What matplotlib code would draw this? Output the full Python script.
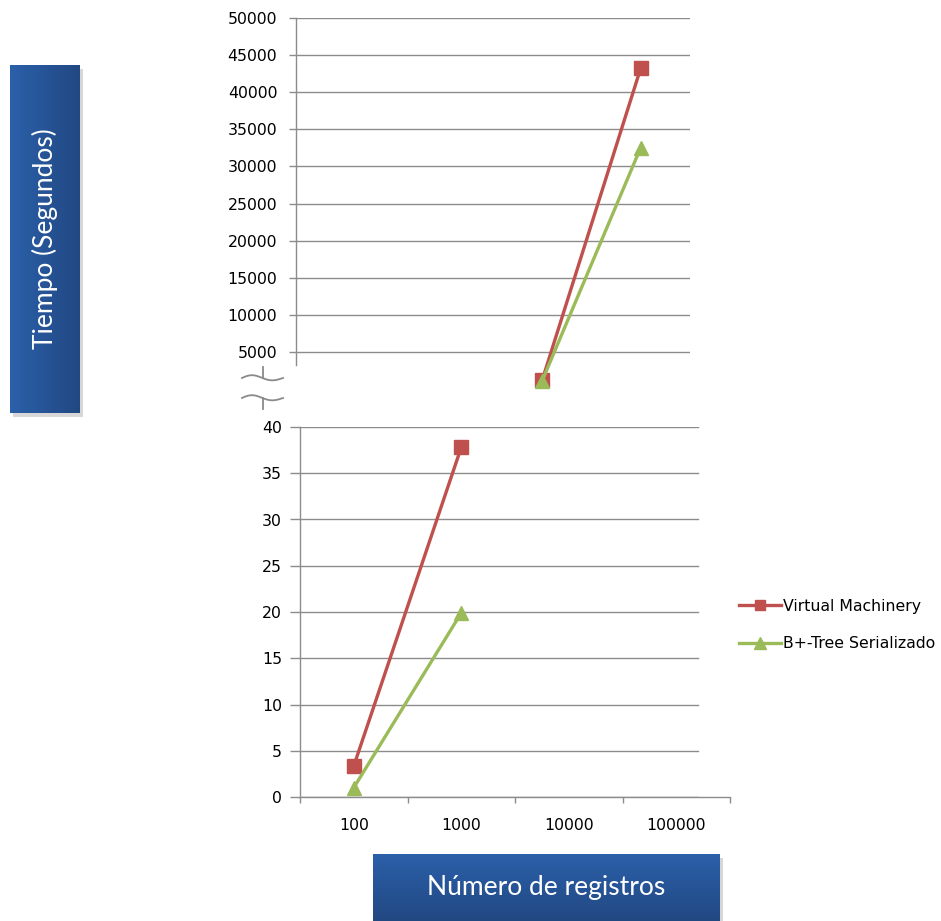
import numpy as np
import matplotlib
matplotlib.use("Agg")
import matplotlib.pyplot as plt
from matplotlib.lines import Line2D

# data
categories = ["100", "1000", "10000", "100000"]
vm_small = [3.35, 37.8, np.nan, np.nan]      # lower panel (0-40 s)
bt_small = [1.0, 19.9, np.nan, np.nan]
vm_large = [np.nan, np.nan, 1230, 43250]     # upper panel (broken axis)
bt_large = [np.nan, np.nan, 1150, 32550]
series_names = ["Virtual Machinery", "B+-Tree Serializado"]

RED = "#C0504D"
GREEN = "#9BBB59"
GRID = "#8C8C8C"
TICK_FS = 11.3
W, H = 941, 921

fig = plt.figure(figsize=(W / 100, H / 100), dpi=100)
fig.patch.set_facecolor("white")


def fx(px):
    return px / W


def fy(py):
    return 1 - py / H


x = np.arange(len(categories))

# ---- upper panel ----
ax_top = fig.add_axes([fx(296), fy(365), fx(690) - fx(296), fy(18) - fy(365)])
ax_top.set_xlim(-0.5, 3.5)
ax_top.set_ylim(3250, 50000)
ax_top.set_yticks(np.arange(5000, 50001, 5000))
for v in ax_top.get_yticks():
    ax_top.axhline(v, color=GRID, lw=1.0, zorder=0)
ax_top.plot(x, vm_large, color=RED, lw=2.4, marker="s", ms=9.5, clip_on=False, zorder=3)
ax_top.plot(x, bt_large, color=GREEN, lw=2.4, marker="^", ms=10, clip_on=False, zorder=4)
for s in ["top", "right", "bottom"]:
    ax_top.spines[s].set_visible(False)
ax_top.spines["left"].set_color(GRID)
ax_top.spines["left"].set_linewidth(1.0)
ax_top.set_xticks([])
ax_top.tick_params(axis="y", length=5, width=1.0, color=GRID, pad=8.5, labelsize=TICK_FS)
ax_top.set_facecolor("none")

# ---- lower panel ----
ax_bot = fig.add_axes([fx(300), fy(797), fx(730) - fx(300), fy(427) - fy(797)])
ax_bot.set_xlim(-0.5, 3.5)
ax_bot.set_ylim(0, 40)
ax_bot.set_yticks(np.arange(0, 41, 5))
gx = (698 - 300) / (730 - 300)
for v in ax_bot.get_yticks():
    ax_bot.axhline(v, xmin=0, xmax=gx, color=GRID, lw=1.0, zorder=0)
ax_bot.plot(x, vm_small, color=RED, lw=2.4, marker="s", ms=9.5, clip_on=False, zorder=3)
ax_bot.plot(x, bt_small, color=GREEN, lw=2.4, marker="^", ms=10, clip_on=False, zorder=4)
for s in ["top", "right"]:
    ax_bot.spines[s].set_visible(False)
for s in ["left", "bottom"]:
    ax_bot.spines[s].set_color(GRID)
    ax_bot.spines[s].set_linewidth(1.0)
ax_bot.set_xticks(np.arange(-0.5, 4.0, 1.0))
ax_bot.set_xticklabels([])
ax_bot.set_xticks(x, minor=True)
ax_bot.set_xticklabels(categories, minor=True)
ax_bot.tick_params(axis="x", which="major", length=4.5, width=1.0, color=GRID)
ax_bot.tick_params(axis="x", which="minor", length=0, pad=15, labelsize=TICK_FS)
ax_bot.tick_params(axis="y", length=7, width=1.0, color=GRID, pad=6, labelsize=TICK_FS)

# ---- axis break marks ----
t = np.linspace(0, 1, 60)
wx = 242 + 41 * t
for y0 in (378, 398):
    wy = y0 - 3.0 * np.sin(2 * np.pi * t) * (1 - 0.3 * t)
    fig.add_artist(Line2D(fx(wx), fy(wy), color="#8A8A8A", lw=1.3))
fig.add_artist(Line2D([fx(263), fx(263)], [fy(367), fy(378)], color="#8A8A8A", lw=1.3))
fig.add_artist(Line2D([fx(263), fx(263)], [fy(398), fy(409)], color="#8A8A8A", lw=1.3))

# ---- legend ----
handles = [
    Line2D([], [], color=RED, lw=2.4, marker="s", ms=7.5),
    Line2D([], [], color=GREEN, lw=2.4, marker="^", ms=8),
]
fig.legend(handles, series_names, loc="center left",
           bbox_to_anchor=(fx(731), fy(625)), frameon=False,
           fontsize=11.3, handlelength=2.7, handletextpad=0.1,
           labelspacing=1.45, borderpad=0)


# ---- blue label boxes ----
def blue_box(x0, y0, x1, y1, text, rotation, vertical_grad):
    # soft shadow
    sh = fig.add_axes([fx(x0 + 3), fy(y1 + 4), fx(x1) - fx(x0), fy(y0) - fy(y1)])
    sh.set_facecolor("#BDBDBD")
    sh.set_xticks([])
    sh.set_yticks([])
    for s in sh.spines.values():
        s.set_visible(False)
    sh.patch.set_alpha(0.6)
    bx = fig.add_axes([fx(x0), fy(y1), fx(x1) - fx(x0), fy(y0) - fy(y1)])
    c0 = np.array([0x2B, 0x60, 0xAA]) / 255
    c1 = np.array([0x22, 0x48, 0x82]) / 255
    g = np.linspace(0, 1, 100)
    cols = c0[None, :] * (1 - g[:, None]) + c1[None, :] * g[:, None]
    if vertical_grad:
        img = cols[:, None, :]
    else:
        img = cols[None, :, :]
    bx.imshow(img, aspect="auto", extent=(0, 1, 0, 1), origin="upper")
    bx.set_xlim(0, 1)
    bx.set_ylim(0, 1)
    bx.set_xticks([])
    bx.set_yticks([])
    for s in bx.spines.values():
        s.set_visible(False)
    bx.text(0.5, 0.5, text, color="white",
            fontsize=19, family="Lato", rotation=rotation,
            ha="center", va="center")
    return bx


blue_box(10, 65, 80, 413, "Tiempo (Segundos)", 90, False)
blue_box(373, 854, 720, 921, "Número de registros", 0, True)

fig.savefig("out.png", dpi=100, facecolor="white")
